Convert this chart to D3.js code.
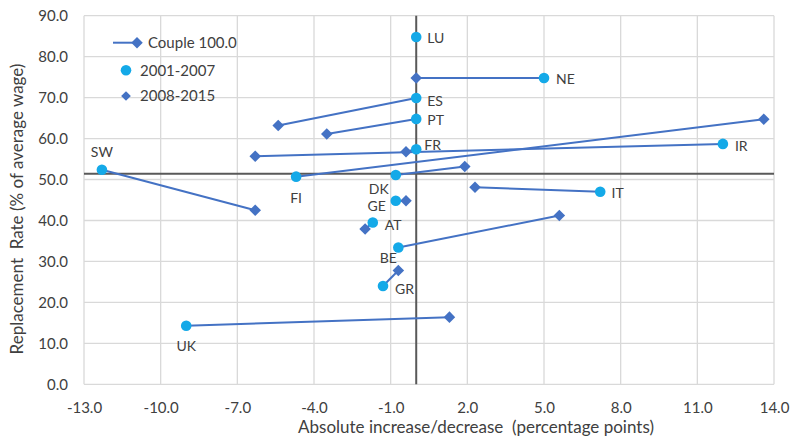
<!DOCTYPE html>
<html><head><meta charset="utf-8">
<script src="https://cdn.jsdelivr.net/npm/d3@7"></script>
<style>body{margin:0;background:#fff}svg{display:block;font-family:Lato,"Open Sans",sans-serif}</style>
</head><body><svg id="c" width="790" height="443"></svg>
<script>
const countries = ["LU","NE","ES","PT","FR","IR","FI","DK","GE","AT","BE","GR","IT","UK","SW"];
const x0107 = [0.0, 5.0, 0.0, 0.0, 0.0, 12.0, -4.7, -0.8, -0.8, -1.7, -0.7, -1.3, 7.2, -9.0, -12.3];
const y0107 = [84.8, 74.8, 69.9, 64.8, 57.4, 58.7, 50.7, 51.1, 44.8, 39.5, 33.4, 24.0, 47.0, 14.3, 52.4];
const x0815 = [null, 0.0, -5.4, -3.5, -0.4, -6.3, 13.6, 1.9, -0.4, -2.0, 5.6, -0.7, 2.3, 1.3, -6.3];
const y0815 = [null, 74.8, 63.2, 61.1, 56.8, 55.7, 64.7, 53.2, 44.8, 37.9, 41.2, 27.8, 48.1, 16.4, 42.5];
const xTicks = [-13, -10, -7, -4, -1, 2, 5, 8, 11, 14];
const yTicks = [0, 10, 20, 30, 40, 50, 60, 70, 80, 90];
const refX = 0, refY = 51.4;
const seriesNames = ["Couple 100.0", "2001-2007", "2008-2015"];
// label placement [dx, dy, anchor]
const labelPos = {LU:[11,6,"start"],NE:[12,6.5,"start"],ES:[11,7.5,"start"],PT:[11,6.5,"start"],FR:[8,0.5,"start"],
  IR:[12,7,"start"],FI:[0,26,"middle"],DK:[-17,18.5,"middle"],GE:[-19,10,"middle"],AT:[12,7,"start"],
  BE:[-10,15.5,"middle"],GR:[12,8,"start"],IT:[11.4,6.5,"start"],UK:[0,25,"middle"],SW:[0,-13,"middle"]};

const svg = d3.select("#c");
const x = d3.scaleLinear().domain([-13,14]).range([84,774]);
const y = d3.scaleLinear().domain([0,90]).range([384.3,15.7]);
const txt = "#404040", grid = "#d9d9d9", blue = "#4472c4", cyan = "#14a9e8";
const fmt = d => d3.format(".1f")(d).replace("\u2212","-");

const g = svg.append("g");
g.selectAll(".gx").data(xTicks).join("line").attr("x1",d=>x(d)).attr("x2",d=>x(d)).attr("y1",y(0)).attr("y2",y(90)).attr("stroke",grid).attr("stroke-width",1.3);
g.selectAll(".gy").data(yTicks).join("line").attr("y1",d=>y(d)).attr("y2",d=>y(d)).attr("x1",x(-13)).attr("x2",x(14)).attr("stroke",grid).attr("stroke-width",1.3);

const xa = g.append("g").attr("transform",`translate(0,${y(0)})`).call(d3.axisBottom(x).tickValues(xTicks).tickFormat(fmt).tickSize(0).tickPadding(18));
const ya = g.append("g").attr("transform",`translate(${x(-13)},0)`).call(d3.axisLeft(y).tickValues(yTicks).tickFormat(fmt).tickSize(0).tickPadding(16));
[xa,ya].forEach(a=>{a.select(".domain").remove();a.selectAll("text").attr("fill",txt).attr("font-size",15).attr("font-family","Lato,'Open Sans',sans-serif");});

g.append("line").attr("x1",x(refX)).attr("x2",x(refX)).attr("y1",y(0)).attr("y2",y(90)).attr("stroke","#595959").attr("stroke-width",2);
g.append("line").attr("y1",y(refY)).attr("y2",y(refY)).attr("x1",x(-13)).attr("x2",x(14)).attr("stroke","#595959").attr("stroke-width",2);

const idx = d3.range(countries.length);
const diamond = d3.symbol().type(d3.symbolDiamond2).size(85);
g.selectAll(".seg").data(idx.filter(i=>x0815[i]!==null)).join("line")
  .attr("x1",i=>x(x0107[i])).attr("y1",i=>y(y0107[i])).attr("x2",i=>x(x0815[i])).attr("y2",i=>y(y0815[i]))
  .attr("stroke",blue).attr("stroke-width",2);
g.selectAll(".dm").data(idx.filter(i=>x0815[i]!==null)).join("path").attr("d",diamond)
  .attr("transform",i=>`translate(${x(x0815[i])},${y(y0815[i])})`).attr("fill",blue);
g.selectAll(".ci").data(idx).join("circle").attr("cx",i=>x(x0107[i])).attr("cy",i=>y(y0107[i])).attr("r",5.3).attr("fill",cyan);
g.selectAll(".lb").data(idx).join("text").attr("x",i=>x(x0107[i])+labelPos[countries[i]][0]).attr("y",i=>y(y0107[i])+labelPos[countries[i]][1])
  .attr("text-anchor",i=>labelPos[countries[i]][2]).attr("font-size",14).attr("fill",txt).text(i=>countries[i]);

// legend
const lg = svg.append("g");
lg.append("line").attr("x1",113).attr("x2",137).attr("y1",42.7).attr("y2",42.7).attr("stroke",blue).attr("stroke-width",2);
lg.append("path").attr("d",diamond).attr("transform","translate(137,42.7)").attr("fill",blue);
lg.append("circle").attr("cx",126).attr("cy",70.3).attr("r",5.3).attr("fill",cyan);
lg.append("path").attr("d",d3.symbol().type(d3.symbolDiamond2).size(60)).attr("transform","translate(126,96)").attr("fill",blue);
lg.selectAll("text").data(seriesNames).join("text").attr("x",(d,i)=>i===0?148:140).attr("y",(d,i)=>[48,75.5,101][i]).attr("font-size",15).attr("fill",txt).text(d=>d);

svg.append("text").attr("transform","translate(23,209) rotate(-90)").attr("text-anchor","middle").attr("font-size",17).attr("fill",txt).text("Replacement  Rate (% of average wage)").style("white-space","pre");
svg.append("text").attr("x",476).attr("y",433).attr("text-anchor","middle").attr("font-size",17).attr("fill",txt).text("Absolute increase/decrease  (percentage points)").style("white-space","pre");
</script></body></html>
